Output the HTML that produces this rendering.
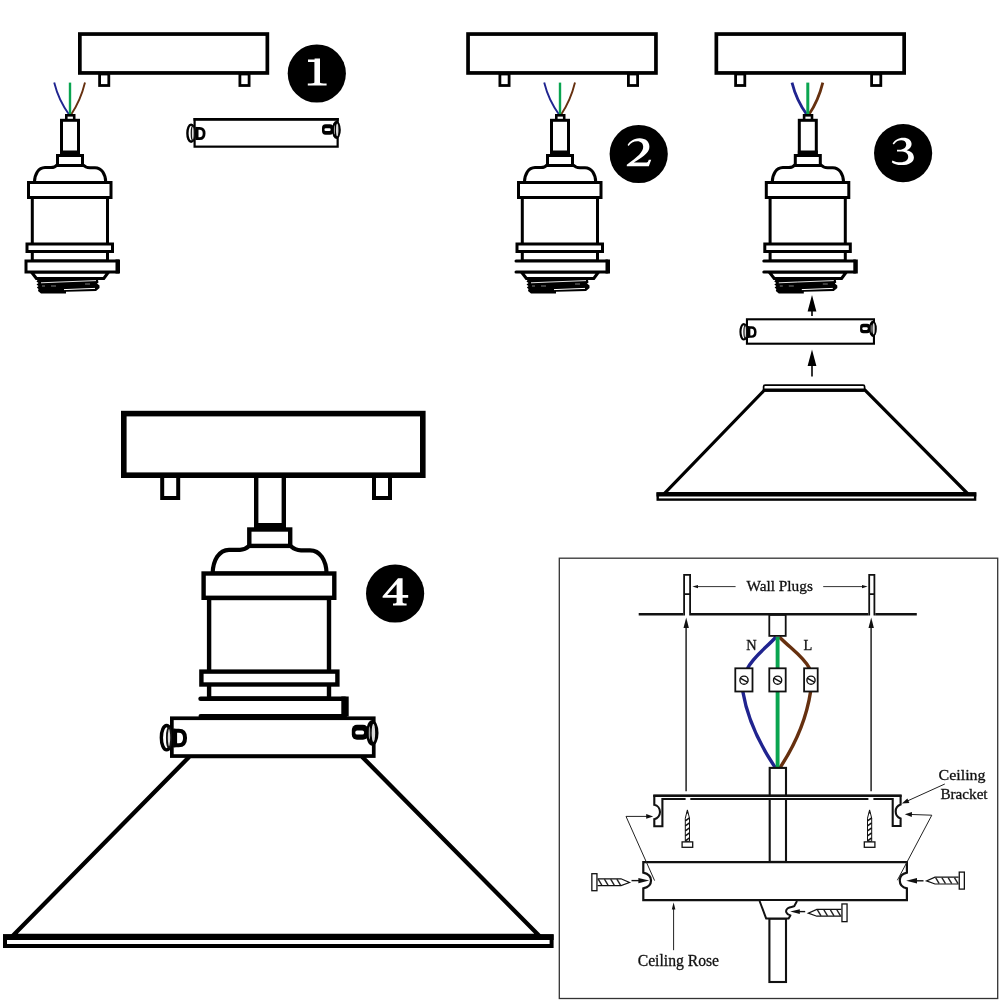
<!DOCTYPE html>
<html><head><meta charset="utf-8"><title>Assembly</title>
<style>
html,body{margin:0;padding:0;background:#fff;}
body{width:1000px;height:1000px;overflow:hidden;font-family:"Liberation Serif",serif;}
svg{display:block;will-change:transform;}
text{font-family:"Liberation Serif",serif;stroke:#111;stroke-width:0.3px;}
</style></head><body>
<svg width="1000" height="1000" viewBox="0 0 1000 1000">
<rect x="0" y="0" width="1000" height="1000" fill="#fff"/>

<!-- panel 1 -->
<g fill="#fff" stroke="#000">
<rect x="99.60000000000001" y="74" width="9.2" height="11.50" stroke-width="2.8"/>
<rect x="239.9" y="74" width="9.2" height="11.50" stroke-width="2.8"/>
<rect x="79.85" y="34.050000000000004" width="187.5" height="38.89999999999999" stroke-width="3.7"/>
</g>
<g transform="translate(0,0)" fill="#fff" stroke="#000" stroke-width="3" stroke-linejoin="miter">
<path d="M54.2,82.6 Q58.6,100.4 69.2,114.8" fill="none" stroke="#20248f" stroke-width="1.9"/>
<path d="M85,82.6 Q80.6,100.6 71,114.8" fill="none" stroke="#66300f" stroke-width="1.9"/>
<path d="M70,82.6 L70,115" fill="none" stroke="#0aa550" stroke-width="2.4"/>
<rect x="66.3" y="115.3" width="7.9" height="5" stroke-width="2.6"/>
<rect x="61.5" y="120.3" width="17" height="33"/>
<rect x="60" y="150.5" width="20" height="4" fill="#000" stroke="none"/>
<path d="M57.5,164.5 Q55,167.6 51,167.6 L45,167.6 C38.5,167.8 34.6,174 34.4,182.5 L105.8,182.5 C105.6,174 101.5,167.8 95,167.8 L90,167.8 Q85.5,167.6 82.5,164.5 Z" stroke-linejoin="round"/>
<rect x="57.5" y="155.5" width="25" height="10"/>
<rect x="32.3" y="197" width="75.2" height="64"/>
<rect x="28.5" y="182.5" width="82.5" height="15"/>
<rect x="27" y="244" width="85.5" height="7.5"/>
<path d="M31.4,272 L36.4,278.5 L103.8,278.5 L108.6,272 Z"/>
<rect x="26" y="261" width="91.5" height="11"/>
<rect x="115.5" y="259.5" width="4.5" height="14" fill="#000" stroke="none"/>
<path d="M37.5,280 L98,280 L98.5,282.5 L97,283.5 L99.5,285.5 L99.5,288 L96,291 L66,291.8 L66,293.4 L41,293.4 L38,291 L38.5,289 L36.8,287.5 L38.5,286 L36.5,284.5 L38.5,283 L36.5,281.5 Z" fill="#000" stroke="none"/>
<path d="M41,282.8 L60,282 L96,280.6" stroke="#fff" stroke-width="0.9" fill="none"/>
<path d="M64,289.6 L95,288.4" stroke="#fff" stroke-width="1" fill="none"/>
<path d="M42,286 L45,286 M51,286 L56,286 M85,284 L90,284" stroke="#999" stroke-width="0.8" fill="none"/>
</g>
<g fill="#fff" stroke="#000" stroke-width="2.2">
<rect x="194.6" y="119.1" width="143.05" height="27.55"/>
<path d="M193.5,119.35 L338.75,119.35" stroke-width="2.7"/>
<ellipse cx="191.10" cy="133.22" rx="3.70" ry="8.60" stroke-width="2.40"/>
<ellipse cx="192.80" cy="133.22" rx="1.50" ry="7.00" stroke-width="1.30" stroke="#111" fill="#ddd"/>
<path d="M197.10,128.32 L199.70,128.32 Q204.10,128.32 204.10,133.47 Q204.10,138.62 199.70,138.62 L197.10,138.62 Z" stroke-width="2.80"/>
<rect x="195.50" y="126.92" width="1.80" height="13.10" fill="#000" stroke="none"/>
<rect x="322.00" y="124.22" width="11.50" height="10.50" rx="3.60" fill="#000" stroke="none"/>
<rect x="324.45" y="128.18" width="6.20" height="2.90" rx="1.30" fill="#fff" stroke="none"/>
<ellipse cx="336.40" cy="129.88" rx="4.40" ry="9.10" fill="#000" stroke="none"/>
<ellipse cx="337.20" cy="129.88" rx="1.25" ry="6.40" fill="#d8d8d8" stroke="none"/>
<ellipse cx="334.45" cy="129.88" rx="0.55" ry="4.60" fill="#999" stroke="none"/>
</g>
<circle cx="316.8" cy="73.5" r="29.1" fill="#000"/><path d="M308,59.6 L314.6,59.6 L314.6,58.4 L320,58.4 L320,82.4 Q320,83.4 326.6,83.6 L326.6,85.4 L307.8,85.4 L307.8,83.6 Q314.4,83.4 314.4,82.4 L314.4,62 L308,62 Z" fill="#fff"/>
<!-- panel 2 -->
<g fill="#fff" stroke="#000">
<rect x="499.9" y="74" width="9.2" height="11.50" stroke-width="2.8"/>
<rect x="628.4" y="74" width="9.2" height="11.50" stroke-width="2.8"/>
<rect x="468.05" y="34.050000000000004" width="187.89999999999998" height="38.89999999999999" stroke-width="3.7"/>
</g>
<g transform="translate(490,0)" fill="#fff" stroke="#000" stroke-width="3" stroke-linejoin="miter">
<path d="M54.2,82.6 Q58.6,100.4 69.2,114.8" fill="none" stroke="#20248f" stroke-width="1.9"/>
<path d="M85,82.6 Q80.6,100.6 71,114.8" fill="none" stroke="#66300f" stroke-width="1.9"/>
<path d="M70,82.6 L70,115" fill="none" stroke="#0aa550" stroke-width="2.4"/>
<rect x="66.3" y="115.3" width="7.9" height="5" stroke-width="2.6"/>
<rect x="61.5" y="120.3" width="17" height="33"/>
<rect x="60" y="150.5" width="20" height="4" fill="#000" stroke="none"/>
<path d="M57.5,164.5 Q55,167.6 51,167.6 L45,167.6 C38.5,167.8 34.6,174 34.4,182.5 L105.8,182.5 C105.6,174 101.5,167.8 95,167.8 L90,167.8 Q85.5,167.6 82.5,164.5 Z" stroke-linejoin="round"/>
<rect x="57.5" y="155.5" width="25" height="10"/>
<rect x="32.3" y="197" width="75.2" height="64"/>
<rect x="28.5" y="182.5" width="82.5" height="15"/>
<rect x="27" y="244" width="85.5" height="7.5"/>
<path d="M31.4,272 L36.4,278.5 L103.8,278.5 L108.6,272 Z"/>
<rect x="26" y="261" width="91.5" height="11" stroke="none"/>
<path d="M26,261 L117.5,261 M26,272 L117.5,272" stroke-linecap="round" fill="none"/>
<rect x="115.5" y="259.5" width="4.5" height="14" fill="#000" stroke="none"/>
<path d="M37.5,280 L98,280 L98.5,282.5 L97,283.5 L99.5,285.5 L99.5,288 L96,291 L66,291.8 L66,293.4 L41,293.4 L38,291 L38.5,289 L36.8,287.5 L38.5,286 L36.5,284.5 L38.5,283 L36.5,281.5 Z" fill="#000" stroke="none"/>
<path d="M41,282.8 L60,282 L96,280.6" stroke="#fff" stroke-width="0.9" fill="none"/>
<path d="M64,289.6 L95,288.4" stroke="#fff" stroke-width="1" fill="none"/>
<path d="M42,286 L45,286 M51,286 L56,286 M85,284 L90,284" stroke="#999" stroke-width="0.8" fill="none"/>
</g>
<circle cx="638.7" cy="154" r="29.1" fill="#000"/><path d="M627.6,145 C629,142 633,138.6 639.4,138.2 C645.4,138 649.4,141.6 649.4,146.4 C649.4,151.6 645.6,155.2 633.8,162.6 L646.6,162.6 Q648.2,162.4 648.8,159.8 L651.2,159.8 L648.8,166.2 L626.8,166.2 L626.8,164.8 C638,156.6 643.2,152 643.2,146.8 C643.2,143.4 640.8,141.2 637.4,141.2 C633.4,141.2 630.6,143.2 628.6,146 Z" fill="#fff"/>
<!-- panel 3 -->
<g fill="#fff" stroke="#000">
<rect x="735.6" y="74" width="9.2" height="11.50" stroke-width="2.8"/>
<rect x="871.6" y="74" width="9.2" height="11.50" stroke-width="2.8"/>
<rect x="716.35" y="34.050000000000004" width="187.8" height="38.89999999999999" stroke-width="3.7"/>
</g>
<g transform="translate(737.8,0)" fill="#fff" stroke="#000" stroke-width="3" stroke-linejoin="miter">
<path d="M54.2,82.6 Q58.6,100.4 69.2,114.8" fill="none" stroke="#20248f" stroke-width="2.8"/>
<path d="M85,82.6 Q80.6,100.6 71,114.8" fill="none" stroke="#66300f" stroke-width="2.8"/>
<path d="M70,82.6 L70,115" fill="none" stroke="#0aa550" stroke-width="3.0"/>
<rect x="66.3" y="115.3" width="7.9" height="5" stroke-width="2.6"/>
<rect x="61.5" y="120.3" width="17" height="33"/>
<rect x="60" y="150.5" width="20" height="4" fill="#000" stroke="none"/>
<path d="M57.5,164.5 Q55,167.6 51,167.6 L45,167.6 C38.5,167.8 34.6,174 34.4,182.5 L105.8,182.5 C105.6,174 101.5,167.8 95,167.8 L90,167.8 Q85.5,167.6 82.5,164.5 Z" stroke-linejoin="round"/>
<rect x="57.5" y="155.5" width="25" height="10"/>
<rect x="32.3" y="197" width="75.2" height="64"/>
<rect x="28.5" y="182.5" width="82.5" height="15"/>
<rect x="27" y="244" width="85.5" height="7.5"/>
<path d="M31.4,272 L36.4,278.5 L103.8,278.5 L108.6,272 Z"/>
<rect x="26" y="261" width="91.5" height="11" stroke="none"/>
<path d="M26,261 L117.5,261 M26,272 L117.5,272" stroke-linecap="round" fill="none"/>
<rect x="115.5" y="259.5" width="4.5" height="14" fill="#000" stroke="none"/>
<path d="M37.5,280 L98,280 L98.5,282.5 L97,283.5 L99.5,285.5 L99.5,288 L96,291 L66,291.8 L66,293.4 L41,293.4 L38,291 L38.5,289 L36.8,287.5 L38.5,286 L36.5,284.5 L38.5,283 L36.5,281.5 Z" fill="#000" stroke="none"/>
<path d="M41,282.8 L60,282 L96,280.6" stroke="#fff" stroke-width="0.9" fill="none"/>
<path d="M64,289.6 L95,288.4" stroke="#fff" stroke-width="1" fill="none"/>
<path d="M42,286 L45,286 M51,286 L56,286 M85,284 L90,284" stroke="#999" stroke-width="0.8" fill="none"/>
</g>
<circle cx="903.1" cy="153.1" r="29.1" fill="#000"/><path d="M892.6,143.6 C894.6,140.4 898.4,137.8 903.4,137.8 C908.4,137.8 911.6,140.4 911.6,144 C911.6,147 909.6,149.2 906.6,150.2 C911.2,151.2 913.9,153.8 913.9,157.4 C913.9,162 909,165.1 901.4,165.1 C897,165.1 893.6,164 891.8,162.2 L892.4,160.4 C894.6,161.6 897.8,162.3 900.6,162.3 C905.2,162.3 908.2,160.2 908.2,156.8 C908.2,153.4 905.4,151.5 900.4,151.5 L897,151.5 L897,149.7 L899.4,149.7 C903.6,149.5 906.2,147.4 906.2,144.4 C906.2,141.8 904.2,140.2 901.2,140.2 C898.2,140.2 895.6,141.8 893.8,144.4 Z" fill="#fff"/>
<g fill="#000" stroke="#000" stroke-width="1.6"><path d="M812,300 L812,316" /><path d="M812,295 L816.4,311.6 L807.6,311.6 Z" stroke="none"/><path d="M812,355 L812,376.5"/><path d="M812,349.4 L816.4,366 L807.6,366 Z" stroke="none"/></g>
<g fill="#fff" stroke="#000" stroke-width="2.1">
<rect x="746.9499999999999" y="319.3" width="127.00000000000003" height="24.4"/>
<ellipse cx="743.76" cy="331.81" rx="3.29" ry="7.65" stroke-width="2.14"/>
<ellipse cx="745.28" cy="331.81" rx="1.33" ry="6.23" stroke-width="1.16" stroke="#111" fill="#ddd"/>
<path d="M749.10,327.45 L751.42,327.45 Q755.33,327.45 755.33,332.03 Q755.33,336.62 751.42,336.62 L749.10,336.62 Z" stroke-width="2.49"/>
<rect x="747.80" y="326.20" width="1.50" height="11.66" fill="#000" stroke="none"/>
<rect x="860.09" y="323.80" width="10.23" height="9.35" rx="3.20" fill="#000" stroke="none"/>
<rect x="862.27" y="327.32" width="5.52" height="2.58" rx="1.16" fill="#fff" stroke="none"/>
<ellipse cx="872.91" cy="328.83" rx="3.92" ry="8.10" fill="#000" stroke="none"/>
<ellipse cx="873.62" cy="328.83" rx="1.11" ry="5.70" fill="#d8d8d8" stroke="none"/>
<ellipse cx="871.17" cy="328.83" rx="0.49" ry="4.09" fill="#999" stroke="none"/>
</g>
<g fill="#fff" stroke="#000">
<path d="M764.5,390 L664.5,493.5 L967.5,493.5 L865,390 Z" stroke-width="3.2" stroke-linejoin="miter"/>
<rect x="763.6" y="385.2" width="101" height="5.4" rx="1.5" stroke-width="1.7"/>
<rect x="762.8" y="388.4" width="102.6" height="3.4" rx="1" fill="#000" stroke="none"/>
<rect x="657.7" y="493.5" width="317.4" height="6.1" stroke-width="2.4"/>
<rect x="656.5" y="492.3" width="319.8" height="4.2" fill="#000" stroke="none"/>
</g>
<!-- panel 4 -->
<g fill="#fff" stroke="#000" stroke-width="4.4">
<rect x="162.2" y="474" width="16" height="24" stroke-width="4"/>
<rect x="374" y="474" width="16" height="24" stroke-width="4"/>
<rect x="256.2" y="474" width="27.6" height="52"/>
<rect x="254" y="523" width="32" height="5.5" fill="#000" stroke="none"/>
<rect x="123.8" y="413.6" width="299" height="61.6" stroke-width="5.6"/>
<path d="M249,546 Q245,549.8 240,549.8 L229,549.8 C219,550 213,560 212.6,573.5 L326.6,573.5 C326.2,560 320,550.4 310,550.4 L301,550.4 Q295,550.2 290.6,546 Z" stroke-width="4.2" stroke-linejoin="round"/>
<rect x="249.3" y="529.5" width="40.9" height="16.4"/>
<rect x="209.1" y="598" width="119.9" height="100.5"/>
<rect x="203.6" y="573.5" width="130.7" height="24.3"/>
<rect x="201.4" y="671.6" width="136" height="12.9"/>
<rect x="200" y="698.8" width="145" height="17" stroke="none"/>
<path d="M200.6,698.8 L345,698.8" stroke-linecap="round" fill="none" stroke-width="4.6"/>
<path d="M200.6,716 L345,716" stroke-linecap="round" fill="none" stroke-width="4.2"/>
<rect x="341.3" y="696.5" width="7.4" height="20" fill="#000" stroke="none"/>
</g>
<g fill="#fff" stroke="#000">
<path d="M190,756 L12.5,936 L539.5,936 L361.3,756 Z" stroke-width="4.3" stroke-linejoin="miter"/>
<rect x="5" y="936.4" width="546.6" height="9.6" stroke-width="4"/>
<rect x="3" y="934.2" width="550.6" height="5.8" fill="#000" stroke="none"/>
</g>
<g fill="#fff" stroke="#000" stroke-width="3.7">
<rect x="171.85" y="718.25" width="201.90000000000003" height="37.8"/>
<ellipse cx="166.59" cy="737.65" rx="5.25" ry="12.21" stroke-width="3.41"/>
<ellipse cx="169.01" cy="737.65" rx="2.13" ry="9.94" stroke-width="1.85" stroke="#111" fill="#ddd"/>
<path d="M175.11,730.69 L178.80,730.69 Q185.05,730.69 185.05,738.00 Q185.05,745.31 178.80,745.31 L175.11,745.31 Z" stroke-width="3.98"/>
<rect x="173.50" y="728.70" width="1.81" height="18.60" fill="#000" stroke="none"/>
<rect x="351.81" y="724.87" width="16.33" height="14.91" rx="5.11" fill="#000" stroke="none"/>
<rect x="355.29" y="730.48" width="8.80" height="4.12" rx="1.85" fill="#fff" stroke="none"/>
<ellipse cx="372.26" cy="732.89" rx="6.25" ry="12.92" fill="#000" stroke="none"/>
<ellipse cx="373.40" cy="732.89" rx="1.77" ry="9.09" fill="#d8d8d8" stroke="none"/>
<ellipse cx="369.49" cy="732.89" rx="0.78" ry="6.53" fill="#999" stroke="none"/>
</g>
<circle cx="395.1" cy="593.5" r="29.1" fill="#000"/><path fill-rule="evenodd" d="M398,578.2 L402.6,578.2 L402.6,595 L408.2,595 L408.2,597.8 L402.6,597.8 L402.6,602.2 Q402.6,603.4 406.6,603.6 L406.6,605.4 L393,605.4 L393,603.6 Q396.6,603.4 396.6,602.2 L396.6,597.8 L382.6,597.8 L382.6,596.2 Z M396.6,584.2 L396.6,595 L387.2,595 Z" fill="#fff"/>
<!-- wiring box -->
<rect x="559.3" y="558.2" width="438.4" height="440.3" fill="none" stroke="#333" stroke-width="1.3"/>
<g fill="none" stroke="#111" stroke-width="1.8">
<path d="M638.7,614.3 L683.2,614.3 M691,614.3 L868.3,614.3 M875.3,614.3 L916.8,614.3" stroke-width="2.4"/>
<path d="M684.1,615.5 L684.1,574.9 L690.1,574.9 L690.1,615.5 M869.2,615.5 L869.2,574.9 L874.4,574.9 L874.4,615.5"/>
<path d="M684,594.2 L690.2,594.2 M869,594.2 L874.6,594.2"/>
</g>
<g stroke="#333" stroke-width="1" fill="#111"><path d="M696,586.6 L735.6,586.6"/><path d="M692.4,586.6 L698,585 L698,588.2 Z" stroke="none"/><path d="M823.2,586.6 L864,586.6"/><path d="M867.6,586.6 L862,585 L862,588.2 Z" stroke="none"/></g>
<text x="746.4" y="591.2" font-size="15.6" textLength="66.5" lengthAdjust="spacingAndGlyphs" fill="#111">Wall Plugs</text>
<g stroke="#222" stroke-width="1.5" fill="#111"><path d="M686.1,626 L686.1,791.2"/><path d="M686.2,617.4 L688.9,628 L683.5,628 Z" stroke="none"/><path d="M871.1,626 L871.1,791.2"/><path d="M871.2,617.4 L873.9,628 L868.5,628 Z" stroke="none"/></g>
<g fill="none" stroke-width="3.4" stroke-linecap="butt">
<path d="M776,637 C766,648 753,657 747.5,668.5" stroke="#20248f"/>
<path d="M779.4,637 C790,648 804,657 809.6,668.5" stroke="#66300f"/>
<path d="M742.8,691.5 C748,722 762,748 775.6,768" stroke="#20248f"/>
<path d="M810.6,691.5 C806,722 793,748 779.8,768" stroke="#66300f"/>
<path d="M777.6,637 L777.6,768" stroke="#0aa550" stroke-width="3.9"/>
</g>
<g fill="#fff" stroke="#111" stroke-width="1.8">
<rect x="769.3" y="615" width="16.4" height="20.9"/>
<rect x="735.3" y="668.3" width="17.2" height="23.2"/>
<circle cx="744" cy="680.2" r="4.1" stroke-width="1.4"/>
<path d="M740.2,678.2 L747.8,682.4000000000001" stroke-width="1.5"/>
<rect x="769.3" y="668.3" width="16.4" height="23.2"/>
<circle cx="777.6" cy="680.2" r="4.1" stroke-width="1.4"/>
<path d="M773.8000000000001,678.2 L781.4,682.4000000000001" stroke-width="1.5"/>
<rect x="804.1" y="668.3" width="13.6" height="23.2"/>
<circle cx="811" cy="680.2" r="4.1" stroke-width="1.4"/>
<path d="M807.2,678.2 L814.8,682.4000000000001" stroke-width="1.5"/>
</g>
<text x="746.2" y="650" font-size="14.4" fill="#111">N</text>
<text x="803.4" y="650" font-size="14.4" fill="#111">L</text>
<g fill="#fff" stroke="#111" stroke-width="2.1">
<rect x="769.7" y="767.9" width="16.3" height="94"/>
<rect x="769.4" y="918.6" width="16.6" height="63.4"/>
</g>
<path d="M654.3,795.7 L900.6,795.7 L900.6,804.6 A7.3,7.3 0 0 0 900.6,818.4 L900.6,826 L892.7,826 L892.7,799 L662.4,799 L662.4,826.2 L654.3,826.2 L654.3,819.2 A7.4,7.4 0 0 0 654.3,804.8 Z" fill="#fff" stroke="#111" stroke-width="2.1" stroke-linejoin="miter"/>
<path d="M653.3,795.7 L901.6,795.7" stroke="#111" stroke-width="2.4" fill="none"/>
<rect x="685.6" y="797.7" width="4.7" height="2.8" fill="#fff"/>
<rect x="868.4" y="797.7" width="5" height="2.8" fill="#fff"/>
<path d="M643.3,862.2 L906.9,862.2 L906.9,872.6 C897.4,874.6 897.4,886.4 906.9,888.4 L906.9,900.1 L643.3,900.1 L643.3,888.4 C653.6,886.2 653.6,874.8 643.3,872.6 Z" fill="#fff" stroke="#111" stroke-width="2.2"/>
<path d="M759.6,901 L766.2,918.6 L788.6,918.6 L790.4,915.4 C786.2,914.4 784.6,910.6 787.8,908.2 C790.4,906.4 792.4,907.4 794.2,906.2 L797,901" fill="#fff" stroke="#111" stroke-width="2" stroke-linejoin="round"/>
<path d="M687.4,809.9 L689.5,818.1999999999999 L689.5,841.3 L685.3,841.3 L685.3,818.1999999999999 Z" fill="#fff" stroke="#111" stroke-width="1"/>
<path d="M687.4,809.9 L688.3,813.5 L686.5,813.5 Z" fill="#111"/>
<path d="M685.3,820.9 L689.5,817.9" stroke="#111" stroke-width="1.5"/>
<path d="M685.3,825.9 L689.5,822.9" stroke="#111" stroke-width="1.5"/>
<path d="M685.3,830.9 L689.5,827.9" stroke="#111" stroke-width="1.5"/>
<path d="M685.3,835.9 L689.5,832.9" stroke="#111" stroke-width="1.5"/>
<path d="M685.3,840.9 L689.5,837.9" stroke="#111" stroke-width="1.5"/>
<rect x="682.1" y="841.9" width="10.6" height="5.4" fill="#fff" stroke="#111" stroke-width="1.3"/>
<path d="M869.6,809.9 L871.7,818.1999999999999 L871.7,841.3 L867.5,841.3 L867.5,818.1999999999999 Z" fill="#fff" stroke="#111" stroke-width="1"/>
<path d="M869.6,809.9 L870.5,813.5 L868.7,813.5 Z" fill="#111"/>
<path d="M867.5,820.9 L871.7,817.9" stroke="#111" stroke-width="1.5"/>
<path d="M867.5,825.9 L871.7,822.9" stroke="#111" stroke-width="1.5"/>
<path d="M867.5,830.9 L871.7,827.9" stroke="#111" stroke-width="1.5"/>
<path d="M867.5,835.9 L871.7,832.9" stroke="#111" stroke-width="1.5"/>
<path d="M867.5,840.9 L871.7,837.9" stroke="#111" stroke-width="1.5"/>
<rect x="864.3000000000001" y="841.9" width="10.6" height="5.4" fill="#fff" stroke="#111" stroke-width="1.3"/>
<path d="M597.60,878.80 L621.00,878.80 L629.50,882.50 L621.00,885.60 L597.60,885.60" fill="#fff" stroke="#111" stroke-width="1.2" stroke-linejoin="miter"/>
<path d="M598.20,879.20 L601.80,885.20" stroke="#222" stroke-width="1.4"/>
<path d="M604.43,879.20 L608.03,885.20" stroke="#222" stroke-width="1.4"/>
<path d="M610.65,879.20 L614.25,885.20" stroke="#222" stroke-width="1.4"/>
<path d="M616.88,879.20 L620.48,885.20" stroke="#222" stroke-width="1.4"/>
<rect x="591.85" y="873.70" width="5.10" height="17.00" fill="#fff" stroke="#111" stroke-width="1.3"/>
<path d="M958.60,877.20 L935.00,877.20 L926.50,880.90 L935.00,884.00 L958.60,884.00" fill="#fff" stroke="#111" stroke-width="1.2" stroke-linejoin="miter"/>
<path d="M935.60,877.60 L939.20,883.60" stroke="#222" stroke-width="1.4"/>
<path d="M941.88,877.60 L945.48,883.60" stroke="#222" stroke-width="1.4"/>
<path d="M948.15,877.60 L951.75,883.60" stroke="#222" stroke-width="1.4"/>
<path d="M954.43,877.60 L958.03,883.60" stroke="#222" stroke-width="1.4"/>
<rect x="959.25" y="872.10" width="5.10" height="17.00" fill="#fff" stroke="#111" stroke-width="1.3"/>
<path d="M841.30,909.40 L816.80,909.40 L808.30,913.10 L816.80,916.20 L841.30,916.20" fill="#fff" stroke="#111" stroke-width="1.2" stroke-linejoin="miter"/>
<path d="M817.40,909.80 L821.00,915.80" stroke="#222" stroke-width="1.4"/>
<path d="M823.90,909.80 L827.50,915.80" stroke="#222" stroke-width="1.4"/>
<path d="M830.40,909.80 L834.00,915.80" stroke="#222" stroke-width="1.4"/>
<path d="M836.90,909.80 L840.50,915.80" stroke="#222" stroke-width="1.4"/>
<rect x="841.95" y="903.95" width="5.10" height="17.70" fill="#fff" stroke="#111" stroke-width="1.3"/>
<path d="M631.5,880.6 L641.6400000000001,880.6" stroke="#111" stroke-width="1.4" fill="none"/><path d="M649.2,880.6 L638.4000000000001,877.9 L638.4000000000001,883.3000000000001 Z" fill="#111"/>
<path d="M923.5,880.8 L913.76,880.8" stroke="#111" stroke-width="1.4" fill="none"/><path d="M906.2,880.8 L917.0,878.0999999999999 L917.0,883.5 Z" fill="#111"/>
<path d="M805.2,911.6 L796.9200000000001,911.6" stroke="#111" stroke-width="1.4" fill="none"/><path d="M790.2,911.6 L799.8000000000001,909.2 L799.8000000000001,914.0 Z" fill="#111"/>
<g fill="none" stroke="#222" stroke-width="1">
<path d="M648,816.4 L626,816.4 L654.6,880.6"/>
<path d="M909,814.4 L931.8,815.2 L897.4,880.2"/>
<path d="M944.8,784 L906,801.6"/>
<path d="M673.6,908 L673.6,950.2"/>
</g>
<g fill="#111">
<path d="M653.2,816.4 L646.2,814 L646.2,818.8 Z"/>
<path d="M904.8,814.3 L912,812.1 L911.8,816.9 Z"/>
<path d="M901.8,803.4 L907.4,798.4 L909.4,803 Z"/>
<path d="M673.6,902.6 L675.4,909.4 L671.8,909.4 Z"/>
</g>
<text x="938.6" y="780.2" font-size="15.6" textLength="47" lengthAdjust="spacingAndGlyphs" fill="#111">Ceiling</text>
<text x="940.4" y="799.3" font-size="15.6" textLength="47.2" lengthAdjust="spacingAndGlyphs" fill="#111">Bracket</text>
<text x="637.7" y="965.5" font-size="15.8" textLength="81.4" lengthAdjust="spacingAndGlyphs" fill="#111">Ceiling Rose</text>
</svg>
</body></html>
